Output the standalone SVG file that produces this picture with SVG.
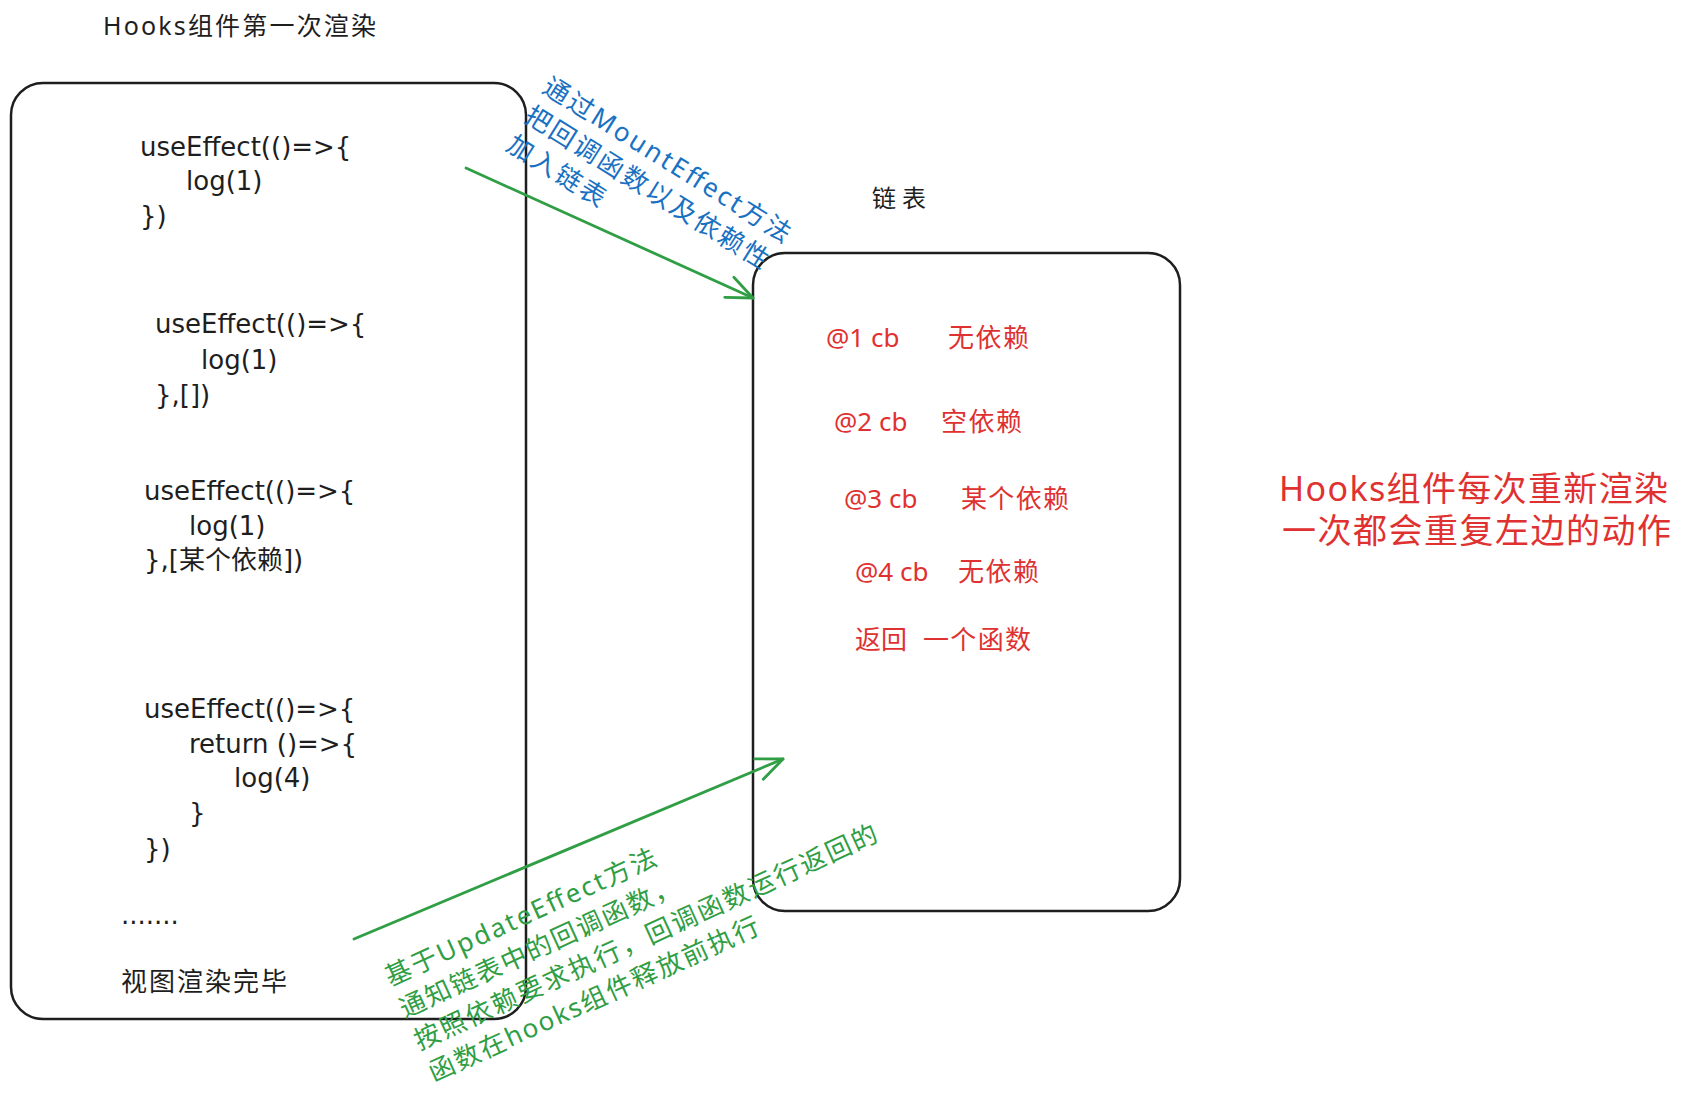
<svg xmlns="http://www.w3.org/2000/svg" width="1693" height="1106" viewBox="0 0 1693 1106">
<style>
.box{fill:none;stroke:#1e1e1e;stroke-width:2.5}
.code{font-family:"DejaVu Sans","Noto Sans CJK SC",sans-serif;font-size:26px;fill:#1e1e1e}
.blk{font-family:"Noto Sans","Noto Sans CJK SC",sans-serif;fill:#1e1e1e}
.red{font-family:"Noto Sans","Noto Sans CJK SC",sans-serif;font-size:26px;fill:#e03131}
.note{font-family:"Noto Sans","Noto Sans CJK SC",sans-serif;font-size:34px;fill:#e03131}
.blue{font-family:"Noto Sans","Noto Sans CJK SC",sans-serif;font-size:26px;fill:#1971c2}
.green{font-family:"Noto Sans","Noto Sans CJK SC",sans-serif;font-size:26px;fill:#2f9e44}
.arr{fill:none;stroke:#2f9e44;stroke-width:2.8;stroke-linecap:round}
</style>
<defs>
<marker id="ah" markerUnits="userSpaceOnUse" markerWidth="40" markerHeight="40" refX="0" refY="0" viewBox="-30 -20 40 40" orient="auto" overflow="visible">
<path d="M -26 -11 L 0 0 L -26 11" fill="none" stroke="#2f9e44" stroke-width="2.8" stroke-linecap="round" stroke-linejoin="round"/>
</marker>
</defs>
<rect width="1693" height="1106" fill="#ffffff"/>

<g id="title">
<text class="blk" x="103" y="35" font-size="25" textLength="273" lengthAdjust="spacing">Hooks组件第一次渲染</text>
</g>

<g id="component">
<rect class="box" x="11" y="83" width="515" height="936" rx="32"/>
<text class="code" x="140" y="156">useEffect(()=&gt;{</text>
<text class="code" x="186" y="190">log(1)</text>
<text class="code" x="140" y="225">})</text>
<text class="code" x="155" y="333">useEffect(()=&gt;{</text>
<text class="code" x="201" y="369">log(1)</text>
<text class="code" x="155" y="404">},[])</text>
<text class="code" x="144" y="500">useEffect(()=&gt;{</text>
<text class="code" x="189" y="535">log(1)</text>
<text class="code" x="144" y="569">},[某个依赖])</text>
<text class="code" x="144" y="718">useEffect(()=&gt;{</text>
<text class="code" x="189" y="753">return ()=&gt;{</text>
<text class="code" x="234" y="787">log(4)</text>
<text class="code" x="189" y="822">}</text>
<text class="code" x="144" y="858">})</text>
<text class="code" x="121" y="924">.......</text>
<text class="blk" x="121" y="991" font-size="26" textLength="166" lengthAdjust="spacing">视图渲染完毕</text>
</g>

<g id="list-label">
<text class="blk" x="872" y="207" font-size="24" textLength="54" lengthAdjust="spacing">链表</text>
</g>

<g id="list">
<rect class="box" x="753" y="253" width="427" height="658" rx="32"/>
<text class="red" x="826" y="347">@1 cb</text>
<text class="red" x="948" y="347" textLength="81" lengthAdjust="spacing">无依赖</text>
<text class="red" x="834" y="431">@2 cb</text>
<text class="red" x="941" y="431" textLength="81" lengthAdjust="spacing">空依赖</text>
<text class="red" x="844" y="508">@3 cb</text>
<text class="red" x="961" y="508" textLength="108" lengthAdjust="spacing">某个依赖</text>
<text class="red" x="855" y="581">@4 cb</text>
<text class="red" x="958" y="581" textLength="81" lengthAdjust="spacing">无依赖</text>
<text class="red" x="855" y="649" textLength="52" lengthAdjust="spacing">返回</text>
<text class="red" x="923" y="649" textLength="108" lengthAdjust="spacing">一个函数</text>
</g>

<g id="note">
<text class="note" x="1279" y="501" textLength="389" lengthAdjust="spacing">Hooks组件每次重新渲染</text>
<text class="note" x="1282" y="543" textLength="389" lengthAdjust="spacing">一次都会重复左边的动作</text>
</g>

<g id="connectors">
<line class="arr" x1="466" y1="168" x2="753" y2="298" marker-end="url(#ah)"/>
<line class="arr" x1="354" y1="939" x2="783" y2="759" marker-end="url(#ah)"/>
</g>

<g id="mount-label" transform="translate(557,90) rotate(32)">
<text class="blue" x="-13" y="10" textLength="287" lengthAdjust="spacing">通过MountEffect方法</text>
<text class="blue" x="-13" y="44" textLength="282" lengthAdjust="spacing">把回调函数以及依赖性</text>
<text class="blue" x="-13" y="78" textLength="111" lengthAdjust="spacing">加入链表</text>
</g>

<g id="update-label" transform="translate(398,972) rotate(-24.5)">
<text class="green" x="-13" y="10" textLength="295" lengthAdjust="spacing">基于UpdateEffect方法</text>
<text class="green" x="-13" y="45" textLength="303" lengthAdjust="spacing">通知链表中的回调函数，</text>
<text class="green" x="-13" y="80" textLength="506" lengthAdjust="spacing">按照依赖要求执行，回调函数运行返回的</text>
<text class="green" x="-13" y="115" textLength="360" lengthAdjust="spacing">函数在hooks组件释放前执行</text>
</g>
</svg>
